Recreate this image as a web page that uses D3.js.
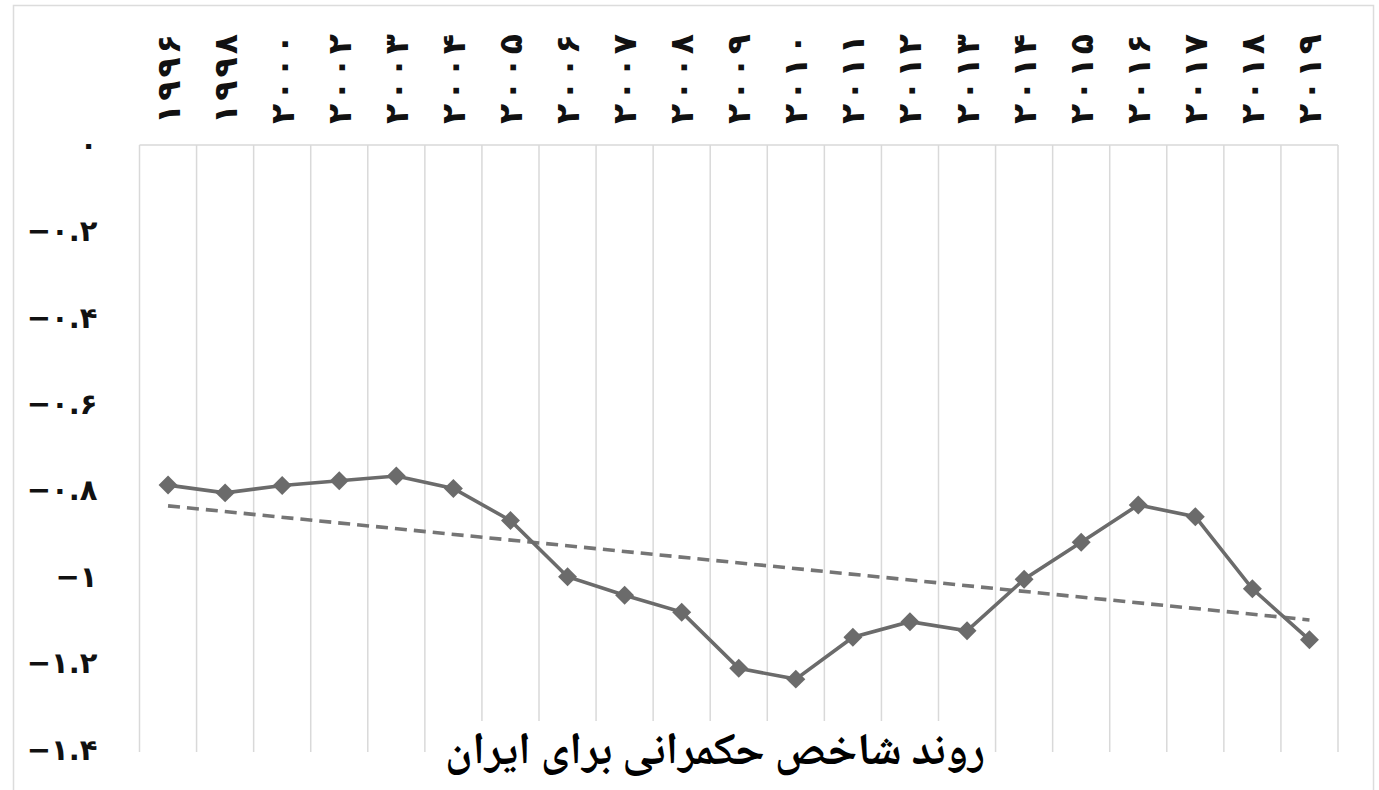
<!DOCTYPE html>
<html>
<head>
<meta charset="utf-8">
<script src="https://cdn.jsdelivr.net/npm/d3@7"></script>
<style>
  html, body { margin: 0; padding: 0; background: #fff; }
  svg { display: block; }
  text { font-family: "DejaVu Sans", "Noto Sans", sans-serif; }
</style>
</head>
<body>
<svg id="chart" width="1379" height="790"></svg>
<script>
// ---- data ----
const years = [1996, 1998, 2000, 2002, 2003, 2004, 2005, 2006, 2007, 2008, 2009,
               2010, 2011, 2012, 2013, 2014, 2015, 2016, 2017, 2018, 2019];
const yearLabels = ["۱۹۹۶", "۱۹۹۸", "۲۰۰۰", "۲۰۰۲", "۲۰۰۳", "۲۰۰۴", "۲۰۰۵", "۲۰۰۶", "۲۰۰۷", "۲۰۰۸", "۲۰۰۹",
                    "۲۰۱۰", "۲۰۱۱", "۲۰۱۲", "۲۰۱۳", "۲۰۱۴", "۲۰۱۵", "۲۰۱۶", "۲۰۱۷", "۲۰۱۸", "۲۰۱۹"];
const values = [-0.787, -0.805, -0.788, -0.777, -0.766, -0.795, -0.869, -0.999, -1.042, -1.081, -1.211,
                -1.236, -1.139, -1.103, -1.124, -1.005, -0.919, -0.833, -0.860, -1.027, -1.145];
const trendValues = [-0.835, -1.099]; // linear trend at first and last year
const yTicks = [0, -0.2, -0.4, -0.6, -0.8, -1, -1.2, -1.4];
const yTickLabels = ["۰", "−۰.۲", "−۰.۴", "−۰.۶", "−۰.۸", "−۱", "−۱.۲", "−۱.۴"];
const title = "روند شاخص حکمرانی برای ایران";

// ---- drawing ----
const svg = d3.select("#chart");
const W = 1379, H = 790;
const plot = { left: 139.5, right: 1338, top: 145, bottom: 752 };
const arabicFont = "'Noto Naskh Arabic', 'Noto Sans Arabic', 'DejaVu Sans', sans-serif";

svg.append("rect").attr("width", W).attr("height", H).attr("fill", "#fff");
// outer frame
svg.append("rect")
  .attr("x", 13.5).attr("y", 5.5).attr("width", 1360).attr("height", 820)
  .attr("fill", "none").attr("stroke", "#dcdcdc").attr("stroke-width", 1.5);

const x = d3.scaleBand().domain(years).range([plot.left, plot.right]).padding(0);
const y = d3.scaleLinear().domain([0, -1.4]).range([145, 750]);
const bw = x.bandwidth();
const cx = d => x(d) + bw / 2;

// vertical gridlines at band edges
const edges = years.map(d => x(d)).concat([x(years[years.length - 1]) + bw]);
svg.append("g").selectAll("line").data(edges).join("line")
  .attr("x1", d => d).attr("x2", d => d)
  .attr("y1", plot.top).attr("y2", plot.bottom)
  .attr("stroke", "#d9d9d9").attr("stroke-width", 1.5);
// top border
svg.append("line")
  .attr("x1", plot.left).attr("x2", plot.right)
  .attr("y1", plot.top).attr("y2", plot.top)
  .attr("stroke", "#d9d9d9").attr("stroke-width", 1.5);

// y axis
const yAxis = svg.append("g")
  .attr("transform", `translate(${plot.left},0)`)
  .call(d3.axisLeft(y).tickValues(yTicks).tickFormat((d, i) => yTickLabels[i]).tickSize(0).tickPadding(42));
yAxis.select(".domain").remove();
yAxis.selectAll("text")
  .attr("font-size", 29).attr("font-weight", "bold").attr("fill", "#111")
  .style("font-family", "'DejaVu Sans', sans-serif");

// x axis (top, rotated labels)
const xAxis = svg.append("g")
  .attr("transform", "translate(0,124)")
  .call(d3.axisTop(x).tickFormat((d, i) => yearLabels[i]).tickSize(0));
xAxis.select(".domain").remove();
xAxis.selectAll("text")
  .attr("transform", "rotate(-90)")
  .attr("x", 0).attr("y", 0).attr("dy", null)
  .attr("dominant-baseline", "central")
  .attr("text-anchor", "start")
  .attr("font-size", 33).attr("font-weight", "bold").attr("fill", "#111")
  .attr("textLength", 90).attr("lengthAdjust", "spacing");

// trend line
const trend = [{ year: years[0], v: trendValues[0] }, { year: years[years.length - 1], v: trendValues[1] }];
svg.append("path")
  .datum(trend)
  .attr("d", d3.line().x(d => cx(d.year)).y(d => y(d.v)))
  .attr("fill", "none").attr("stroke", "#757575").attr("stroke-width", 3.6)
  .attr("stroke-dasharray", "12,7");

// data line
const data = years.map((yr, i) => ({ year: yr, v: values[i] }));
svg.append("path")
  .datum(data)
  .attr("d", d3.line().x(d => cx(d.year)).y(d => y(d.v)))
  .attr("fill", "none").attr("stroke", "#6b6b6b").attr("stroke-width", 3.6);

// markers
svg.append("g").selectAll("path").data(data).join("path")
  .attr("d", d3.symbol(d3.symbolSquare, 180)())
  .attr("transform", d => `translate(${cx(d.year)},${y(d.v)}) rotate(45)`)
  .attr("fill", "#6b6b6b");

// title with white background
const tg = svg.append("g");
const bg = tg.append("rect").attr("fill", "#fff");
const t = tg.append("text")
  .attr("x", 715).attr("y", 764)
  .attr("text-anchor", "middle")
  .attr("font-weight", "bold")
  .attr("fill", "#000")
  .attr("font-size", 40)
  .style("font-family", arabicFont)
  .text(title);
// fit title to the reference width
const targetW = 540;
const w0 = t.node().getComputedTextLength();
t.attr("font-size", 40 * targetW / w0);
const bb = t.node().getBBox();
bg.attr("x", bb.x - 8).attr("y", 721).attr("width", bb.width + 16).attr("height", H - 721);
</script>
</body>
</html>
